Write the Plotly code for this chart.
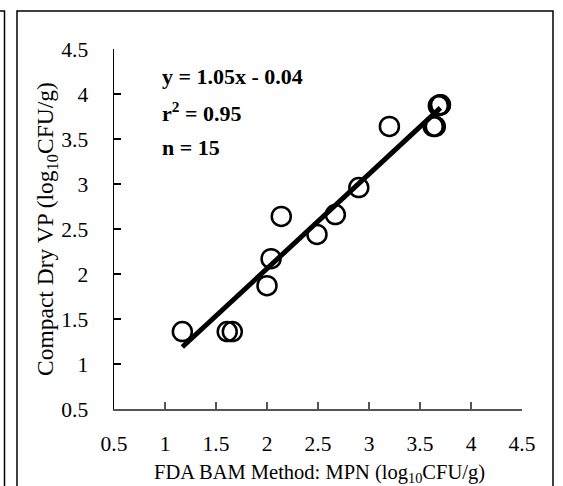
import plotly.graph_objects as go

# Data
x_mpn = [1.17, 1.61, 1.66, 2.00, 2.04, 2.14, 2.49, 2.67, 2.90, 3.20, 3.63, 3.65, 3.68, 3.70, 3.70]
y_cd = [1.36, 1.36, 1.36, 1.87, 2.17, 2.64, 2.44, 2.66, 2.96, 3.64, 3.64, 3.64, 3.87, 3.88, 3.88]

slope = 1.05
intercept = -0.04

tick_vals = [0.5, 1, 1.5, 2, 2.5, 3, 3.5, 4, 4.5]
tick_text = ["0.5", "1", "1.5", "2", "2.5", "3", "3.5", "4", "4.5"]

eq_lines = ["y = 1.05x - 0.04", "r<sup>2</sup> = 0.95", "n = 15"]

FONT = "Liberation Serif, Times New Roman, serif"

x_fit = [min(x_mpn), max(x_mpn)]
y_fit = [slope * v + intercept for v in x_fit]

fig = go.Figure()
fig.add_trace(go.Scatter(
    x=x_mpn, y=y_cd, mode="markers",
    marker=dict(symbol="circle-open", size=19, color="black", line=dict(width=2.5, color="black")),
    showlegend=False, hoverinfo="skip"))
fig.add_trace(go.Scatter(
    x=x_fit, y=y_fit, mode="lines",
    line=dict(color="black", width=5),
    showlegend=False, hoverinfo="skip"))

W, H = 563, 486
L, R, T, B = 114, 41, 49, 77
pw, ph = W - L - R, H - T - B

def px(xp):
    return (xp - L) / pw

def py(yp):
    return (H - B - yp) / ph

fig.update_layout(
    width=W, height=H,
    margin=dict(l=L, r=R, t=T, b=B, pad=0),
    paper_bgcolor="white", plot_bgcolor="white",
    font=dict(family=FONT, color="black", size=21.5),
    xaxis=dict(range=[0.5, 4.5], tickvals=tick_vals, ticktext=tick_text,
               showgrid=False, zeroline=False, showline=True, linecolor="#555555", linewidth=1.5,
               ticks="inside", ticklen=7, tickwidth=1.2, tickcolor="#555555",
               ticklabelstandoff=15, tickfont=dict(size=21.5, family=FONT), fixedrange=True),
    yaxis=dict(range=[0.5, 4.5], tickvals=tick_vals, ticktext=tick_text,
               showgrid=False, zeroline=False, showline=True, linecolor="black", linewidth=1.5,
               ticks="inside", ticklen=7, tickwidth=1.2, tickcolor="black",
               ticklabelstandoff=20, tickfont=dict(size=21.5, family=FONT), fixedrange=True),
)

# axis titles
fig.add_annotation(x=px(319), y=py(473), xref="paper", yref="paper",
                   text="FDA BAM Method: MPN (log<sub>10</sub>CFU/g)", showarrow=False,
                   font=dict(size=20.5, family=FONT), xanchor="center", yanchor="middle")
fig.add_annotation(x=px(47), y=py(229), xref="paper", yref="paper",
                   text="Compact Dry VP (log<sub>10</sub>CFU/g)", showarrow=False, textangle=-90,
                   font=dict(size=23.5, family=FONT), xanchor="center", yanchor="middle")

# equation text
for txt, yc in zip(eq_lines, [77, 112, 147]):
    fig.add_annotation(x=px(160), y=py(yc), xref="paper", yref="paper", text="<b>" + txt + "</b>",
                       showarrow=False, font=dict(size=22, family=FONT),
                       xanchor="left", yanchor="middle")

# frames
fig.add_shape(type="rect", xref="paper", yref="paper",
              x0=px(17), x1=px(553), y0=py(520), y1=py(11),
              line=dict(color="black", width=1.5), layer="below")
fig.add_shape(type="rect", xref="paper", yref="paper",
              x0=px(-40), x1=px(4.5), y0=py(520), y1=py(11),
              line=dict(color="black", width=1.5), layer="below")

fig.write_html("out.html", config={"displayModeBar": False, "staticPlot": True},
               post_script="document.body.style.margin='0';document.body.style.padding='0';document.body.style.overflow='hidden';")
